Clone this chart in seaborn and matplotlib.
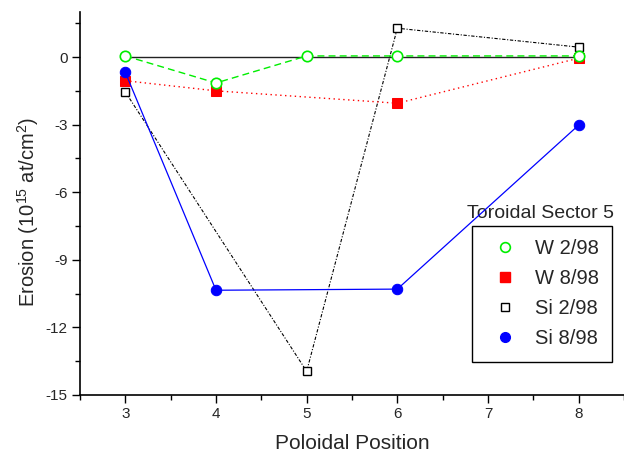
import matplotlib
matplotlib.use("Agg")
import matplotlib.pyplot as plt
from matplotlib.lines import Line2D
from matplotlib.ticker import MultipleLocator
import seaborn as sns
import pandas as pd

# ---- data ----
w298_x = [3, 4, 5, 6, 8]
w298_y = [0.05, -1.15, 0.05, 0.05, 0.05]
w898_x = [3, 4, 6, 8]
w898_y = [-1.05, -1.5, -2.05, -0.05]
si298_x = [3, 5, 6, 8]
si298_y = [-1.55, -13.95, 1.28, 0.44]
si898_x = [3, 4, 6, 8]
si898_y = [-0.68, -10.35, -10.3, -3.02]
base_x = [3, 8]
base_y = [0, 0]
legend_title = "Toroidal Sector 5"
labels = ["W 2/98", "W 8/98", "Si 2/98", "Si 8/98"]

sns.set_style("ticks")
plt.rcParams['font.family'] = ['Liberation Sans', 'DejaVu Sans']
plt.rcParams['axes.unicode_minus'] = False
plt.rcParams['mathtext.fontset'] = 'custom'
plt.rcParams['mathtext.rm'] = 'Liberation Sans'

fig = plt.figure(figsize=(6.24, 4.58), dpi=100)
ax = fig.add_axes([80/624, 63/458, 544/624, 383/458])

sns.lineplot(x=base_x, y=base_y, ax=ax, color="#222222", linewidth=1.0,
             estimator=None, sort=False)
sns.lineplot(x=si298_x, y=si298_y, ax=ax, color="black", linewidth=0.8,
             linestyle=(0, (3, 1.5, 1, 1.5)), marker="s", markersize=6,
             markerfacecolor="white", markeredgecolor="black", markeredgewidth=1,
             estimator=None, sort=False, zorder=3)
sns.lineplot(x=w898_x, y=w898_y, ax=ax, color="#ff0000", linewidth=1.0,
             linestyle=(0, (1, 2.5)), marker="s", markersize=7,
             markerfacecolor="#ff0000", markeredgecolor="#ff0000",
             estimator=None, sort=False, zorder=4)
sns.lineplot(x=si898_x, y=si898_y, ax=ax, color="#0000ff", linewidth=0.9,
             marker="o", markersize=7.5,
             markerfacecolor="#0000ff", markeredgecolor="#0000ff",
             estimator=None, sort=False, zorder=5)
sns.lineplot(x=w298_x, y=w298_y, ax=ax, color="#00ee00", linewidth=1.0,
             linestyle=(0, (5, 3)), marker="o", markersize=7.5,
             markerfacecolor="white", markeredgecolor="#00ee00", markeredgewidth=1.2,
             estimator=None, sort=False, zorder=6)

ax.set_xlim(2.5, 8.5)
ax.set_ylim(-15, 2)
ax.xaxis.set_major_locator(MultipleLocator(1))
ax.xaxis.set_minor_locator(MultipleLocator(0.5))
ax.yaxis.set_major_locator(MultipleLocator(3))
ax.yaxis.set_minor_locator(MultipleLocator(1.5))
ax.set_xticks([3, 4, 5, 6, 7, 8])
ax.tick_params(axis="both", which="major", direction="out", length=6, width=1,
               labelsize=11, color="black", pad=3)
ax.tick_params(axis="both", which="minor", direction="out", length=3.5, width=1,
               color="black")
for s in ["top", "right"]:
    ax.spines[s].set_visible(False)
for s in ["left", "bottom"]:
    ax.spines[s].set_color("black")
    ax.spines[s].set_linewidth(1.2)

ax.set_xlabel("Poloidal Position", fontsize=15, labelpad=9)
ax.set_ylabel("Erosion (10$^{15}$ at/cm$^{2}$)", fontsize=14.5)
ax.yaxis.set_label_coords(-0.072, 0.478)

handles = [
    Line2D([], [], linestyle="none", marker="o", markersize=7, markerfacecolor="white",
           markeredgecolor="#00ee00", markeredgewidth=1.2),
    Line2D([], [], linestyle="none", marker="s", markersize=7, markerfacecolor="#ff0000",
           markeredgecolor="#ff0000"),
    Line2D([], [], linestyle="none", marker="s", markersize=5.5, markerfacecolor="white",
           markeredgecolor="black"),
    Line2D([], [], linestyle="none", marker="o", markersize=7, markerfacecolor="#0000ff",
           markeredgecolor="#0000ff"),
]
leg = ax.legend(handles, labels, loc="upper left", bbox_to_anchor=(0.72, 0.441),
                fontsize=14.5, frameon=True, fancybox=False, framealpha=1,
                edgecolor="black", borderpad=0.65, labelspacing=0.55,
                handlelength=2, handletextpad=0.5, borderaxespad=0)
leg.get_frame().set_linewidth(1.0)
ax.text(0.711, 0.475, legend_title, transform=ax.transAxes, fontsize=14,
        ha="left", va="center")

fig.savefig("out.png", dpi=100)
